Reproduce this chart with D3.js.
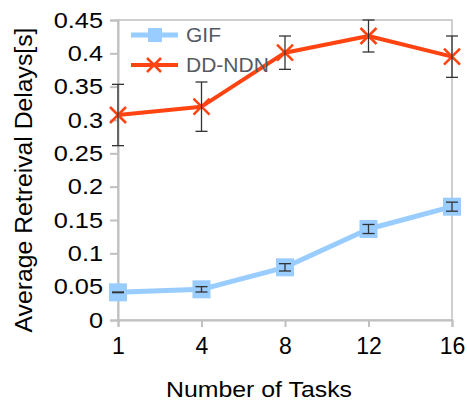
<!DOCTYPE html>
<html>
<head>
<meta charset="utf-8">
<script src="https://cdn.jsdelivr.net/npm/d3@7"></script>
<style>
  body { margin: 0; background: #fff; }
  svg { display: block; font-family: "Liberation Sans", Arial, sans-serif; }
</style>
</head>
<body>
<div id="chart"></div>
<script>
const tasks = ["1", "4", "8", "12", "16"]
const gifDelay = [0.0415, 0.046, 0.079, 0.1365, 0.170]
const gifErr = [0.0005, 0.004, 0.0055, 0.0068, 0.0068]
const ddDelay = [0.3075, 0.320, 0.401, 0.426, 0.395]
const ddErr = [0.046, 0.037, 0.025, 0.024, 0.031]
const yTicks = [0, 0.05, 0.1, 0.15, 0.2, 0.25, 0.3, 0.35, 0.4, 0.45]

const width = 467, height = 403
const margin = { top: 20, right: 15, bottom: 83, left: 118 }

const svg = d3.select("#chart")
  .append("svg")
    .attr("width", width)
    .attr("height", height)

// widen glyphs a bit, the original text looks horizontally stretched
const stretch = (sel, k) => {
  sel.each(function() {
    const w = this.getComputedTextLength()
    d3.select(this)
      .attr("textLength", w * k)
      .attr("lengthAdjust", "spacingAndGlyphs")
  })
}

const x = d3.scalePoint()
  .domain(tasks)
  .range([margin.left, width - margin.right])

const y = d3.scaleLinear()
  .domain([0, 0.45])
  .range([height - margin.bottom, margin.top])

const gridColor = "#c0c0c0"

// plot frame (top + right)
svg.append("rect")
  .attr("x", margin.left)
  .attr("y", margin.top)
  .attr("width", width - margin.right - margin.left)
  .attr("height", height - margin.bottom - margin.top)
  .attr("fill", "none")
  .attr("stroke", gridColor)
  .attr("stroke-width", 1.5)

const yAxis = svg.append("g")
  .attr("transform", `translate(${margin.left},0)`)
  .call(d3.axisLeft(y).tickValues(yTicks).tickFormat(d => String(+d.toFixed(2))).tickSize(8).tickPadding(7))
yAxis.select(".domain").attr("stroke", gridColor).attr("stroke-width", 2)
yAxis.selectAll(".tick line").attr("stroke", gridColor).attr("stroke-width", 2)
yAxis.selectAll("text").attr("fill", "#000").style("font-size", "22px")
  .style("font-family", "Liberation Sans, Arial, sans-serif")
  .call(stretch, 1.15)

const xAxis = svg.append("g")
  .attr("transform", `translate(0,${height - margin.bottom})`)
  .call(d3.axisBottom(x).tickSize(7).tickPadding(6))
xAxis.select(".domain").attr("stroke", gridColor).attr("stroke-width", 2)
xAxis.selectAll(".tick line").attr("stroke", gridColor).attr("stroke-width", 2)
xAxis.selectAll("text").attr("fill", "#000").style("font-size", "23px")
  .style("font-family", "Liberation Sans, Arial, sans-serif")
  .attr("dy", "0.9em")

svg.append("text")
  .text("Number of Tasks")
  .attr("x", 259)
  .attr("y", 397)
  .attr("text-anchor", "middle")
  .style("font-size", "22px")
  .attr("textLength", 186)
  .attr("lengthAdjust", "spacingAndGlyphs")

svg.append("text")
  .text("Average Retreival Delays[s]")
  .attr("transform", `translate(32,180) rotate(-90)`)
  .attr("text-anchor", "middle")
  .style("font-size", "23px")
  .attr("textLength", 305)
  .attr("lengthAdjust", "spacingAndGlyphs")

const series = [
  { name: "GIF", values: gifDelay, errs: gifErr, color: "#99ccff", lw: 5, marker: "square" },
  { name: "DD-NDN", values: ddDelay, errs: ddErr, color: "#ff4411", lw: 4, marker: "x" }
]

const line = d3.line()
  .x((d, i) => x(tasks[i]))
  .y(d => y(d))

series.forEach(s => {
  svg.append("path")
    .datum(s.values)
    .attr("d", line)
    .attr("fill", "none")
    .attr("stroke", s.color)
    .attr("stroke-width", s.lw)
    .attr("stroke-linejoin", "round")

  const pts = svg.append("g")
    .selectAll("g")
    .data(s.values)
    .join("g")
    .attr("transform", (d, i) => `translate(${x(tasks[i])},${y(d)})`)

  if (s.marker === "square") {
    pts.append("rect")
      .attr("x", -9).attr("y", -9)
      .attr("width", 18).attr("height", 18)
      .attr("fill", s.color)
  } else {
    pts.append("path")
      .attr("d", "M-8,-8L8,8M-8,8L8,-8")
      .attr("stroke", s.color)
      .attr("stroke-width", 2.5)
  }

  // error bars
  const eb = svg.append("g")
    .selectAll("g")
    .data(s.values)
    .join("g")
  eb.append("line")
    .attr("x1", (d, i) => x(tasks[i]))
    .attr("x2", (d, i) => x(tasks[i]))
    .attr("y1", (d, i) => y(d - s.errs[i]))
    .attr("y2", (d, i) => y(d + s.errs[i]))
    .attr("stroke", "#333")
    .attr("stroke-width", 1.3)
  ;[-1, 1].forEach(sign => {
    eb.append("line")
      .attr("x1", (d, i) => x(tasks[i]) - 6)
      .attr("x2", (d, i) => x(tasks[i]) + 6)
      .attr("y1", (d, i) => y(d + sign * s.errs[i]))
      .attr("y2", (d, i) => y(d + sign * s.errs[i]))
      .attr("stroke", "#333")
      .attr("stroke-width", 1.3)
  })
})

// legend
const legend = svg.append("g")
  .selectAll("g")
  .data(series)
  .join("g")
  .attr("transform", (d, i) => `translate(131,${35 + i * 30})`)

legend.append("line")
  .attr("x1", 0).attr("x2", 47)
  .attr("stroke", d => d.color)
  .attr("stroke-width", d => d.lw)
legend.filter(d => d.marker === "square").append("rect")
  .attr("x", 17).attr("y", -7).attr("width", 14).attr("height", 14)
  .attr("fill", d => d.color)
legend.filter(d => d.marker === "x").append("path")
  .attr("d", "M16,-7L30,7M16,7L30,-7")
  .attr("stroke", d => d.color)
  .attr("stroke-width", 2.5)
legend.append("text")
  .text(d => d.name)
  .attr("x", 55)
  .attr("dy", "0.35em")
  .attr("fill", "#555a64")
  .style("font-size", "21px")
</script>
</body>
</html>
